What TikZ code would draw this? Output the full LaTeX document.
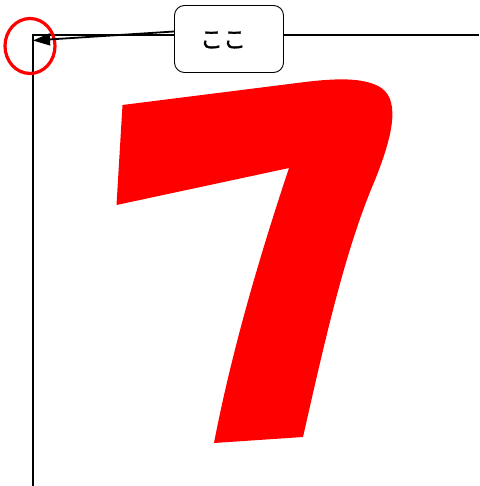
\documentclass[tikz,border=0pt]{standalone}
\usepackage{fontspec}
\newfontfamily\cjk[BoldFont={Noto Sans CJK JP},BoldFeatures={FakeBold=1.3}]{Noto Sans CJK JP}
\usetikzlibrary{arrows.meta}
\begin{document}
\begin{tikzpicture}[x=1pt,y=-1pt,
  axisline/.style={line width=1.6pt,black},
  labelbox/.style={draw=black,line width=0.9pt,rounded corners=10pt,fill=white,minimum width=109pt,minimum height=67pt,inner sep=0pt},
  pointer/.style={line width=1.8pt,-{Triangle[length=17pt,width=12pt]}},
  ringstyle/.style={draw=red,line width=3.2pt}]
\useasboundingbox (0,0) rectangle (479,486);
% the red seven
\fill[red] (122.5,105) -- (116.5,205) -- (289,168)
  .. controls (255,270) and (230,360) .. (214,443)
  -- (303,437)
  .. controls (325,340) and (345,250) .. (375,180)
  .. controls (395,130) and (400,97) .. (378,86)
  .. controls (362,78) and (338,78) .. (305,82)
  -- cycle;
% axes
\coordinate (corner) at (33,35);
\coordinate (xend) at (479,35);
\coordinate (yend) at (33,486);
\draw[axisline] (yend) -- (corner) -- (xend);
% highlight ring
\draw[ringstyle] (30,46) ellipse [x radius=25, y radius=27.5];
% label box and pointer
\node[labelbox] (lbl) at (229,39) {};
\node[font=\cjk\bfseries\fontsize{23}{23}\selectfont,inner sep=0pt] (txt) at (223,40) {ここ};
\coordinate (tip) at (33,40.5);
\draw[pointer] (lbl.west) ++(0,-7.5) coordinate (start) (start) -- (tip);
\end{tikzpicture}
\end{document}
